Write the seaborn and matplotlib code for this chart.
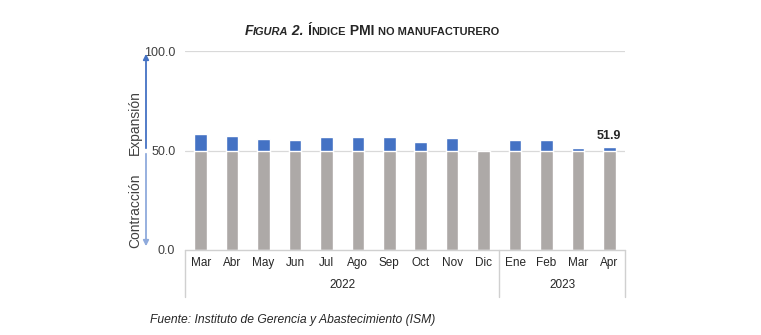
import matplotlib
matplotlib.use("Agg")
import matplotlib.pyplot as plt
import seaborn as sns
import pandas as pd
import numpy as np

months = ["Mar", "Abr", "May", "Jun", "Jul", "Ago", "Sep", "Oct", "Nov", "Dic",
          "Ene", "Feb", "Mar", "Apr"]
years = ["2022"] * 10 + ["2023"] * 4
pmi = [58.3, 57.1, 55.9, 55.3, 56.7, 56.9, 56.7, 54.4, 56.5, 49.6,
       55.2, 55.1, 51.2, 51.9]
threshold = 50.0
yticks = [0.0, 50.0, 100.0]

sns.set_theme(style="white")
plt.rcParams["font.family"] = ["Liberation Sans", "DejaVu Sans"]

df = pd.DataFrame({"pos": [f"{i}" for i in range(len(months))], "month": months,
                   "year": years, "pmi": pmi})
df["base"] = np.minimum(df["pmi"], threshold)

fig = plt.figure(figsize=(7.61, 3.35), dpi=100)
ax = fig.add_axes([185 / 761, 1 - 250 / 335, 440 / 761, 199 / 335])

blue = "#4472C4"
grey = "#ADA9A7"
sns.barplot(data=df, x="pos", y="pmi", color=blue, width=0.4, ax=ax,
            saturation=1, zorder=3)
sns.barplot(data=df, x="pos", y="base", color=grey, width=0.4, ax=ax,
            saturation=1, zorder=4)

ax.set_ylim(0, 100)
ax.set_xlim(-0.5, len(months) - 0.5)
ax.set_yticks(yticks)
ax.set_yticklabels([f"{v:.1f}" for v in yticks], fontsize=9, color="#404040")
ax.tick_params(axis="y", length=0, pad=7)
ax.set_xticks([])
ax.set_xlabel("")
ax.set_ylabel("")
for s in ax.spines.values():
    s.set_visible(False)
for v in [50, 100]:
    ax.axhline(v, color="#D9D9D9", lw=0.9, zorder=2)

# category box
lc = "#D0D0D0"
trans = ax.get_xaxis_transform()
ax.plot([-0.5, len(months) - 0.5], [0, 0], color=lc, lw=1, transform=trans,
        clip_on=False, zorder=5)
for xb in [-0.5, 9.5, 13.5]:
    ax.plot([xb, xb], [0, -47 / 199], color=lc, lw=1, transform=trans, clip_on=False)
for i, m in enumerate(months):
    ax.text(i, -13 / 199, m, transform=trans, ha="center", va="center",
            fontsize=8.5, color="#262626")
ax.text(4.5, -35 / 199, "2022", transform=trans, ha="center", va="center",
        fontsize=8.5, color="#262626")
ax.text(11.5, -35 / 199, "2023", transform=trans, ha="center", va="center",
        fontsize=8.5, color="#262626")

# data label
ax.text(13, pmi[-1] + 2.5, f"{pmi[-1]:.1f}", ha="center", va="bottom",
        fontsize=9, fontweight="bold", color="#262626")

# arrows
ax_x = 146 / 761
fig.patches.append(matplotlib.patches.FancyArrowPatch(
    (ax_x, 1 - 151 / 335), (ax_x, 1 - 51 / 335), transform=fig.transFigure,
    arrowstyle="-|>", mutation_scale=8, color="#4472C4", lw=1.3))
fig.patches.append(matplotlib.patches.FancyArrowPatch(
    (ax_x, 1 - 151 / 335), (ax_x, 1 - 249 / 335), transform=fig.transFigure,
    arrowstyle="-|>", mutation_scale=8, color="#8FAADC", lw=1.3))
fig.text(135 / 761, 1 - 123 / 335, "Expansión", rotation=90, ha="center",
         va="center", fontsize=10, color="#404040")
fig.text(135 / 761, 1 - 211 / 335, "Contracción", rotation=90, ha="center",
         va="center", fontsize=10, color="#404040")

# title with simulated small caps
pieces = [("F", 10, "italic"), ("IGURA", 7.9, "italic"), (" 2. ", 10, "italic"),
          ("Í", 10, "normal"), ("NDICE", 7.9, "normal"), (" PMI ", 10, "normal"),
          ("NO MANUFACTURERO", 7.9, "normal")]
fig.canvas.draw()
renderer = fig.canvas.get_renderer()
widths = []
texts = []
for s, size, style in pieces:
    t = fig.text(0, 0, s, fontsize=size, fontstyle=style, fontweight="bold",
                 color="#262626")
    widths.append(t.get_window_extent(renderer).width)
    texts.append(t)
total = sum(widths)
x0 = 372 - total / 2
for t, w in zip(texts, widths):
    t.set_position((x0 / 761, 1 - 35 / 335))
    x0 += w

fig.text(150 / 761, 1 - 320 / 335,
         "Fuente: Instituto de Gerencia y Abastecimiento (ISM)",
         fontsize=8.7, fontstyle="italic", color="#262626", va="center")

fig.savefig("out.png", dpi=100)
